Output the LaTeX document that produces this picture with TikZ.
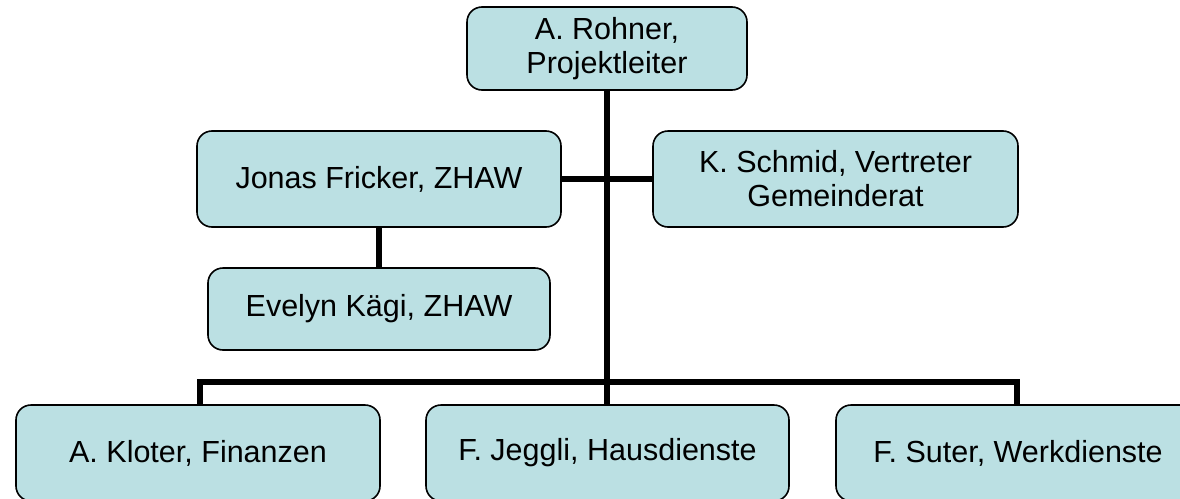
\documentclass[tikz,border=0pt]{standalone}
\usepackage{fontspec}
\setmainfont{Liberation Sans}
\definecolor{boxfill}{RGB}{187,224,227}
\tikzset{
  orgbox/.style={draw=black, line width=1.6pt, fill=boxfill, rounded corners=15pt,
    inner sep=0pt, align=center, font=\fontsize{30.5}{34}\selectfont},
  conn/.style={line width=6pt, draw=black}
}
\begin{document}
\begin{tikzpicture}[x=1pt,y=-1pt]
\useasboundingbox (0,0) rectangle (1180,498);
\clip (0,0) rectangle (1180,498);
\fill[white] (0,0) rectangle (1180,498);
\node[orgbox, minimum width=280pt, minimum height=83pt] (top) at (607,48.5) {A. Rohner,\\Projektleiter};
\node[orgbox, minimum width=364pt, minimum height=96pt] (jonas) at (379,179) {Jonas Fricker, ZHAW};
\node[orgbox, minimum width=365pt, minimum height=96pt] (schmid) at (835.5,179) {K. Schmid, Vertreter\\Gemeinderat};
\node[orgbox, minimum width=342pt, minimum height=82pt] (evelyn) at (379,309) {Evelyn Kägi, ZHAW};
\node[orgbox, minimum width=364pt, minimum height=96pt] (kloter) at (198,453) {A. Kloter, Finanzen};
\node[orgbox, minimum width=363pt, minimum height=96pt] (jeggli) at (607.5,453) {F. Jeggli, Hausdienste};
\node[orgbox, minimum width=364pt, minimum height=96pt] (suter) at (1018,453) {F. Suter, Werkdienste};
\coordinate (bar) at (607,382);
\draw[conn] (top.south) -- (top.south |- jeggli.north);
\draw[conn] (jonas.east) -- (schmid.west);
\draw[conn] (jonas.south) -- (evelyn.north);
\draw[conn] ([xshift=2pt]kloter.north) |- (bar) -| ([xshift=-1pt]suter.north);
\end{tikzpicture}
\end{document}
